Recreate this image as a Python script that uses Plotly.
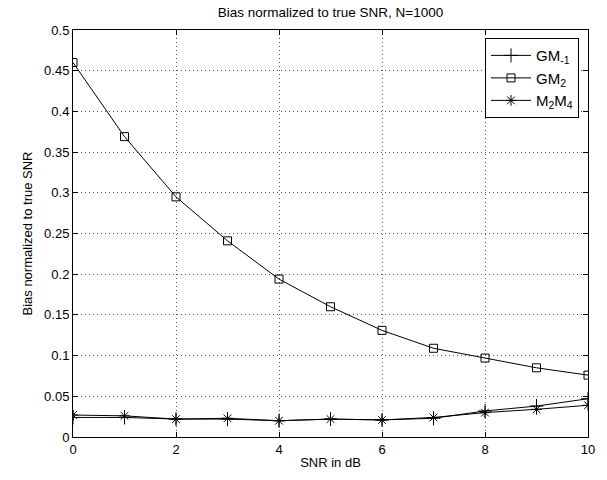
import plotly.graph_objects as go

snr = [0, 1, 2, 3, 4, 5, 6, 7, 8, 9, 10]
gm_m1 = [0.024, 0.024, 0.022, 0.022, 0.020, 0.022, 0.021, 0.023, 0.032, 0.038, 0.047]
gm_2 = [0.460, 0.369, 0.295, 0.241, 0.194, 0.160, 0.131, 0.109, 0.097, 0.085, 0.076]
m2m4 = [0.027, 0.026, 0.022, 0.023, 0.020, 0.022, 0.021, 0.024, 0.030, 0.034, 0.039]

fig = go.Figure()
series = [
    ("GM<sub>-1</sub>", gm_m1, "cross-thin-open", 10),
    ("GM<sub>2</sub>", gm_2, "square-open", 8),
    ("M<sub>2</sub>M<sub>4</sub>", m2m4, "asterisk-open", 9),
]
for name, ys, sym, sz in series:
    fig.add_trace(go.Scatter(
        x=snr, y=ys, name=name, mode="lines+markers",
        line=dict(color="black", width=1),
        marker=dict(symbol=sym, size=sz, color="black", line=dict(color="black", width=1)),
    ))

axis_common = dict(
    showline=True, linecolor="black", linewidth=1, mirror="ticks",
    ticks="inside", ticklen=5, tickcolor="black",
    showgrid=True, gridcolor="#555555", griddash="1px,3px", gridwidth=1,
    zeroline=False, tickfont=dict(size=13, color="black"),
)
fig.update_xaxes(range=[0, 10], dtick=2, title=dict(text="SNR in dB", font=dict(size=13), standoff=2), **axis_common)
fig.update_yaxes(range=[0, 0.5], dtick=0.05, tickformat="~g",
                 title=dict(text="Bias normalized to true SNR", font=dict(size=13), standoff=8), **axis_common)

fig.update_layout(
    width=607, height=480,
    margin=dict(l=73, r=19, t=30, b=43),
    paper_bgcolor="white", plot_bgcolor="white",
    font=dict(family="Liberation Sans, Arial, sans-serif", size=13, color="black"),
    title=dict(text="Bias normalized to true SNR, N=1000", x=(73 + 588) / 2 / 607, xanchor="center",
               y=0.985, yanchor="top", font=dict(size=13.5)),
    legend=dict(x=0.9825, y=0.98, xanchor="right", yanchor="top",
                bordercolor="black", borderwidth=1, bgcolor="white",
                font=dict(size=15), tracegroupgap=0, itemwidth=40),
    showlegend=True,
)
fig.write_html("out.html", config={"displayModeBar": False},
               post_script="document.body.style.margin='0';")
